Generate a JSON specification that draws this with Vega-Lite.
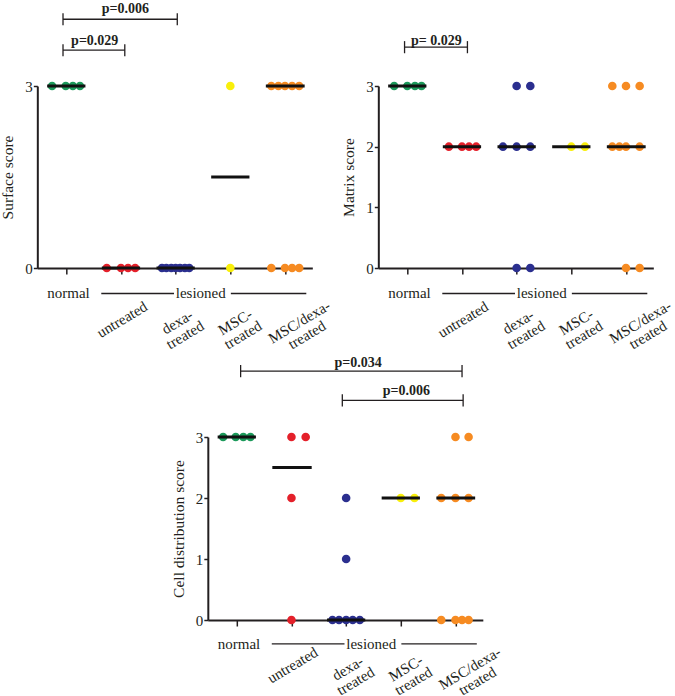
{
  "$schema": "https://vega.github.io/schema/vega-lite/v6.json",
  "padding": {"left": 0, "top": 1, "right": 0, "bottom": 0},
  "background": "white",
  "config": {
    "view": {"stroke": null},
    "axis": {"domainColor": "#231f20", "tickColor": "#231f20", "labelColor": "#231f20", "titleColor": "#231f20", "grid": false, "labelFont": "Liberation Serif", "titleFont": "Liberation Serif", "domainWidth": 2, "tickWidth": 1.5}
  },
  "datasets": {
    "d1": [
      {"g": "normal", "x": 0.74, "y": 3}, {"g": "normal", "x": 0.99, "y": 3}, {"g": "normal", "x": 1.12, "y": 3}, {"g": "normal", "x": 1.25, "y": 3},
      {"g": "untreated", "x": 1.74, "y": 0}, {"g": "untreated", "x": 2.0, "y": 0}, {"g": "untreated", "x": 2.13, "y": 0}, {"g": "untreated", "x": 2.26, "y": 0},
      {"g": "dexa", "x": 2.75, "y": 0}, {"g": "dexa", "x": 2.83, "y": 0}, {"g": "dexa", "x": 2.92, "y": 0}, {"g": "dexa", "x": 3.0, "y": 0}, {"g": "dexa", "x": 3.08, "y": 0}, {"g": "dexa", "x": 3.17, "y": 0}, {"g": "dexa", "x": 3.25, "y": 0},
      {"g": "MSC", "x": 4.0, "y": 3}, {"g": "MSC", "x": 4.0, "y": 0},
      {"g": "MSCdexa", "x": 4.75, "y": 3}, {"g": "MSCdexa", "x": 4.88, "y": 3}, {"g": "MSCdexa", "x": 5.0, "y": 3}, {"g": "MSCdexa", "x": 5.13, "y": 3}, {"g": "MSCdexa", "x": 5.26, "y": 3},
      {"g": "MSCdexa", "x": 4.75, "y": 0}, {"g": "MSCdexa", "x": 5.0, "y": 0}, {"g": "MSCdexa", "x": 5.13, "y": 0}, {"g": "MSCdexa", "x": 5.26, "y": 0}
    ],
    "m1": [
      {"x1": 0.65, "x2": 1.35, "y": 3}, {"x1": 1.65, "x2": 2.35, "y": 0}, {"x1": 2.65, "x2": 3.35, "y": 0}, {"x1": 3.65, "x2": 4.35, "y": 1.5}, {"x1": 4.65, "x2": 5.36, "y": 3}
    ],
    "b1": [
      {"x1": 0.94, "x2": 3.03, "y": 4.1, "t": "p=0.006", "tx": 2.08, "ty": 4.27},
      {"x1": 0.94, "x2": 2.07, "y": 3.59, "t": "p=0.029", "tx": 1.52, "ty": 3.75}
    ],
    "c1": [
      {"x": 0.94, "y1": 4.0, "y2": 4.2}, {"x": 3.03, "y1": 4.0, "y2": 4.2},
      {"x": 0.94, "y1": 3.49, "y2": 3.69}, {"x": 2.07, "y1": 3.49, "y2": 3.69}
    ],
    "d2": [
      {"g": "normal", "x": 0.76, "y": 3}, {"g": "normal", "x": 1.0, "y": 3}, {"g": "normal", "x": 1.14, "y": 3}, {"g": "normal", "x": 1.26, "y": 3},
      {"g": "untreated", "x": 1.76, "y": 2}, {"g": "untreated", "x": 2.0, "y": 2}, {"g": "untreated", "x": 2.13, "y": 2}, {"g": "untreated", "x": 2.26, "y": 2},
      {"g": "dexa", "x": 3.0, "y": 3}, {"g": "dexa", "x": 3.25, "y": 3}, {"g": "dexa", "x": 2.75, "y": 2}, {"g": "dexa", "x": 3.0, "y": 2}, {"g": "dexa", "x": 3.25, "y": 2}, {"g": "dexa", "x": 3.0, "y": 0}, {"g": "dexa", "x": 3.25, "y": 0},
      {"g": "MSC", "x": 4.0, "y": 2}, {"g": "MSC", "x": 4.25, "y": 2},
      {"g": "MSCdexa", "x": 4.75, "y": 3}, {"g": "MSCdexa", "x": 5.0, "y": 3}, {"g": "MSCdexa", "x": 5.25, "y": 3},
      {"g": "MSCdexa", "x": 4.75, "y": 2}, {"g": "MSCdexa", "x": 4.88, "y": 2}, {"g": "MSCdexa", "x": 5.0, "y": 2}, {"g": "MSCdexa", "x": 5.25, "y": 2},
      {"g": "MSCdexa", "x": 5.0, "y": 0}, {"g": "MSCdexa", "x": 5.25, "y": 0}
    ],
    "m2": [
      {"x1": 0.65, "x2": 1.35, "y": 3}, {"x1": 1.65, "x2": 2.35, "y": 2}, {"x1": 2.65, "x2": 3.35, "y": 2}, {"x1": 3.65, "x2": 4.35, "y": 2}, {"x1": 4.65, "x2": 5.36, "y": 2}
    ],
    "b2": [
      {"x1": 0.95, "x2": 2.1, "y": 3.64, "t": "p= 0.029", "tx": 1.53, "ty": 3.75}
    ],
    "c2": [
      {"x": 0.95, "y1": 3.54, "y2": 3.74}, {"x": 2.1, "y1": 3.54, "y2": 3.74}
    ],
    "d3": [
      {"g": "normal", "x": 0.75, "y": 3}, {"g": "normal", "x": 0.98, "y": 3}, {"g": "normal", "x": 1.12, "y": 3}, {"g": "normal", "x": 1.25, "y": 3},
      {"g": "untreated", "x": 2.0, "y": 3}, {"g": "untreated", "x": 2.26, "y": 3}, {"g": "untreated", "x": 2.0, "y": 2}, {"g": "untreated", "x": 2.0, "y": 0},
      {"g": "dexa", "x": 3.0, "y": 2}, {"g": "dexa", "x": 3.0, "y": 1}, {"g": "dexa", "x": 2.75, "y": 0}, {"g": "dexa", "x": 2.87, "y": 0}, {"g": "dexa", "x": 3.0, "y": 0}, {"g": "dexa", "x": 3.12, "y": 0}, {"g": "dexa", "x": 3.25, "y": 0},
      {"g": "MSC", "x": 4.0, "y": 2}, {"g": "MSC", "x": 4.25, "y": 2},
      {"g": "MSCdexa", "x": 5.0, "y": 3}, {"g": "MSCdexa", "x": 5.24, "y": 3},
      {"g": "MSCdexa", "x": 4.74, "y": 2}, {"g": "MSCdexa", "x": 5.0, "y": 2}, {"g": "MSCdexa", "x": 5.24, "y": 2},
      {"g": "MSCdexa", "x": 4.74, "y": 0}, {"g": "MSCdexa", "x": 5.0, "y": 0}, {"g": "MSCdexa", "x": 5.12, "y": 0}, {"g": "MSCdexa", "x": 5.24, "y": 0}
    ],
    "m3": [
      {"x1": 0.65, "x2": 1.35, "y": 3}, {"x1": 1.65, "x2": 2.37, "y": 2.5}, {"x1": 2.65, "x2": 3.35, "y": 0}, {"x1": 3.65, "x2": 4.35, "y": 2}, {"x1": 4.65, "x2": 5.36, "y": 2}
    ],
    "b3": [
      {"x1": 1.07, "x2": 5.12, "y": 4.08, "t": "p=0.034", "tx": 3.22, "ty": 4.22},
      {"x1": 2.93, "x2": 5.14, "y": 3.6, "t": "p=0.006", "tx": 4.1, "ty": 3.75}
    ],
    "c3": [
      {"x": 1.07, "y1": 3.98, "y2": 4.18}, {"x": 5.12, "y1": 3.98, "y2": 4.18},
      {"x": 2.93, "y1": 3.5, "y2": 3.7}, {"x": 5.14, "y1": 3.5, "y2": 3.7}
    ],
    "hl": [
      {"t": "normal", "x": 1.04, "y": -0.42},
      {"t": "lesioned", "x": 3.46, "y": -0.42}
    ],
    "rl": [
      {"t": "untreated", "x": 2.02, "y": -0.85},
      {"t": "dexa-\ntreated", "x": 3.03, "y": -0.89},
      {"t": "MSC-\ntreated", "x": 4.09, "y": -0.89},
      {"t": "MSC/dexa-\ntreated", "x": 5.26, "y": -0.89}
    ],
    "ll": [
      {"x1": 1.64, "x2": 2.97, "y": -0.42},
      {"x1": 4.01, "x2": 5.39, "y": -0.42}
    ],
    "hl3": [
      {"t": "normal", "x": 1.04, "y": -0.39},
      {"t": "lesioned", "x": 3.46, "y": -0.39}
    ],
    "rl3": [
      {"t": "untreated", "x": 2.02, "y": -0.74},
      {"t": "dexa-\ntreated", "x": 3.03, "y": -0.79},
      {"t": "MSC-\ntreated", "x": 4.09, "y": -0.79},
      {"t": "MSC/dexa-\ntreated", "x": 5.26, "y": -0.79}
    ],
    "ll3": [
      {"x1": 1.64, "x2": 2.97, "y": -0.39},
      {"x1": 4.01, "x2": 5.39, "y": -0.39}
    ]
  },
  "vconcat": [
    {
      "hconcat": [
        {
          "width": 275, "height": 182,
          "layer": [
            {"data": {"name": "ll"}, "mark": {"type": "rule", "strokeWidth": 1.3, "color": "#231f20"},
             "encoding": {"x": {"field": "x1", "type": "quantitative"}, "x2": {"field": "x2"}, "y": {"field": "y", "type": "quantitative"}}},
            {"data": {"name": "b1"}, "mark": {"type": "rule", "strokeWidth": 1.3, "color": "#231f20"},
             "encoding": {"x": {"field": "x1", "type": "quantitative"}, "x2": {"field": "x2"}, "y": {"field": "y", "type": "quantitative"}}},
            {"data": {"name": "c1"}, "mark": {"type": "rule", "strokeWidth": 1.3, "color": "#231f20"},
             "encoding": {"x": {"field": "x", "type": "quantitative"}, "y": {"field": "y1", "type": "quantitative"}, "y2": {"field": "y2"}}},
            {"data": {"name": "b1"}, "mark": {"type": "text", "font": "Liberation Serif", "fontWeight": "bold", "fontSize": 14, "baseline": "middle", "align": "center", "color": "#231f20"},
             "encoding": {"x": {"field": "tx", "type": "quantitative"}, "y": {"field": "ty", "type": "quantitative"}, "text": {"field": "t"}}},
            {"data": {"name": "hl"}, "mark": {"type": "text", "font": "Liberation Serif", "fontSize": 15, "baseline": "middle", "align": "center", "color": "#231f20"},
             "encoding": {"x": {"field": "x", "type": "quantitative"}, "y": {"field": "y", "type": "quantitative"}, "text": {"field": "t"}}},
            {"data": {"name": "rl"}, "mark": {"type": "text", "font": "Liberation Serif", "fontSize": 15, "baseline": "middle", "align": "center", "angle": -31, "lineBreak": "\n", "lineHeight": 15, "color": "#231f20"},
             "encoding": {"x": {"field": "x", "type": "quantitative"}, "y": {"field": "y", "type": "quantitative"}, "text": {"field": "t"}}},
            {"data": {"name": "d1"}, "mark": {"type": "circle", "size": 74, "opacity": 1},
             "encoding": {
               "x": {"field": "x", "type": "quantitative", "scale": {"domain": [0.47, 5.5], "nice": false, "zero": false}, "axis": {"title": null, "values": [1, 2, 3, 4, 5], "labels": false, "tickSize": 6}},
               "y": {"field": "y", "type": "quantitative", "scale": {"domain": [0, 3], "nice": false}, "axis": {"title": "Surface score", "values": [0, 3], "format": "d", "tickSize": 4, "labelPadding": 1, "labelFontSize": 15, "titleFontSize": 15.5, "titleFontWeight": "normal", "titlePadding": 9}},
               "color": {"field": "g", "type": "nominal", "scale": {"domain": ["normal", "untreated", "dexa", "MSC", "MSCdexa"], "range": ["#1c9a5b", "#e4202a", "#2b2f8f", "#f9ef0a", "#f68b22"]}, "legend": null}}},
            {"data": {"name": "m1"}, "mark": {"type": "rule", "strokeWidth": 3, "color": "#111111"},
             "encoding": {"x": {"field": "x1", "type": "quantitative"}, "x2": {"field": "x2"}, "y": {"field": "y", "type": "quantitative"}}}
          ]
        },
        {
          "width": 275, "height": 182,
          "layer": [
            {"data": {"name": "ll"}, "mark": {"type": "rule", "strokeWidth": 1.3, "color": "#231f20"},
             "encoding": {"x": {"field": "x1", "type": "quantitative"}, "x2": {"field": "x2"}, "y": {"field": "y", "type": "quantitative"}}},
            {"data": {"name": "b2"}, "mark": {"type": "rule", "strokeWidth": 1.3, "color": "#231f20"},
             "encoding": {"x": {"field": "x1", "type": "quantitative"}, "x2": {"field": "x2"}, "y": {"field": "y", "type": "quantitative"}}},
            {"data": {"name": "c2"}, "mark": {"type": "rule", "strokeWidth": 1.3, "color": "#231f20"},
             "encoding": {"x": {"field": "x", "type": "quantitative"}, "y": {"field": "y1", "type": "quantitative"}, "y2": {"field": "y2"}}},
            {"data": {"name": "b2"}, "mark": {"type": "text", "font": "Liberation Serif", "fontWeight": "bold", "fontSize": 14, "baseline": "middle", "align": "center", "color": "#231f20"},
             "encoding": {"x": {"field": "tx", "type": "quantitative"}, "y": {"field": "ty", "type": "quantitative"}, "text": {"field": "t"}}},
            {"data": {"name": "hl"}, "mark": {"type": "text", "font": "Liberation Serif", "fontSize": 15, "baseline": "middle", "align": "center", "color": "#231f20"},
             "encoding": {"x": {"field": "x", "type": "quantitative"}, "y": {"field": "y", "type": "quantitative"}, "text": {"field": "t"}}},
            {"data": {"name": "rl"}, "mark": {"type": "text", "font": "Liberation Serif", "fontSize": 15, "baseline": "middle", "align": "center", "angle": -31, "lineBreak": "\n", "lineHeight": 15, "color": "#231f20"},
             "encoding": {"x": {"field": "x", "type": "quantitative"}, "y": {"field": "y", "type": "quantitative"}, "text": {"field": "t"}}},
            {"data": {"name": "d2"}, "mark": {"type": "circle", "size": 74, "opacity": 1},
             "encoding": {
               "x": {"field": "x", "type": "quantitative", "scale": {"domain": [0.47, 5.5], "nice": false, "zero": false}, "axis": {"title": null, "values": [1, 2, 3, 4, 5], "labels": false, "tickSize": 6}},
               "y": {"field": "y", "type": "quantitative", "scale": {"domain": [0, 3], "nice": false}, "axis": {"title": "Matrix score", "values": [0, 1, 2, 3], "format": "d", "tickSize": 4, "labelPadding": 1, "labelFontSize": 15, "titleFontSize": 15.5, "titleFontWeight": "normal", "titlePadding": 9}},
               "color": {"field": "g", "type": "nominal", "scale": {"domain": ["normal", "untreated", "dexa", "MSC", "MSCdexa"], "range": ["#1c9a5b", "#e4202a", "#2b2f8f", "#f9ef0a", "#f68b22"]}, "legend": null}}},
            {"data": {"name": "m2"}, "mark": {"type": "rule", "strokeWidth": 3, "color": "#111111"},
             "encoding": {"x": {"field": "x1", "type": "quantitative"}, "x2": {"field": "x2"}, "y": {"field": "y", "type": "quantitative"}}}
          ]
        }
      ],
      "spacing": 66,
      "bounds": "flush"
    },
    {
      "width": 275, "height": 183,
      "layer": [
        {"data": {"name": "ll3"}, "mark": {"type": "rule", "strokeWidth": 1.3, "color": "#231f20"},
         "encoding": {"x": {"field": "x1", "type": "quantitative"}, "x2": {"field": "x2"}, "y": {"field": "y", "type": "quantitative"}}},
        {"data": {"name": "b3"}, "mark": {"type": "rule", "strokeWidth": 1.3, "color": "#231f20"},
         "encoding": {"x": {"field": "x1", "type": "quantitative"}, "x2": {"field": "x2"}, "y": {"field": "y", "type": "quantitative"}}},
        {"data": {"name": "c3"}, "mark": {"type": "rule", "strokeWidth": 1.3, "color": "#231f20"},
         "encoding": {"x": {"field": "x", "type": "quantitative"}, "y": {"field": "y1", "type": "quantitative"}, "y2": {"field": "y2"}}},
        {"data": {"name": "b3"}, "mark": {"type": "text", "font": "Liberation Serif", "fontWeight": "bold", "fontSize": 14, "baseline": "middle", "align": "center", "color": "#231f20"},
         "encoding": {"x": {"field": "tx", "type": "quantitative"}, "y": {"field": "ty", "type": "quantitative"}, "text": {"field": "t"}}},
        {"data": {"name": "hl3"}, "mark": {"type": "text", "font": "Liberation Serif", "fontSize": 15, "baseline": "middle", "align": "center", "color": "#231f20"},
         "encoding": {"x": {"field": "x", "type": "quantitative"}, "y": {"field": "y", "type": "quantitative"}, "text": {"field": "t"}}},
        {"data": {"name": "rl3"}, "mark": {"type": "text", "font": "Liberation Serif", "fontSize": 15, "baseline": "middle", "align": "center", "angle": -31, "lineBreak": "\n", "lineHeight": 15, "color": "#231f20"},
         "encoding": {"x": {"field": "x", "type": "quantitative"}, "y": {"field": "y", "type": "quantitative"}, "text": {"field": "t"}}},
        {"data": {"name": "d3"}, "mark": {"type": "circle", "size": 74, "opacity": 1},
         "encoding": {
           "x": {"field": "x", "type": "quantitative", "scale": {"domain": [0.47, 5.5], "nice": false, "zero": false}, "axis": {"title": null, "values": [1, 2, 3, 4, 5], "labels": false, "tickSize": 6}},
           "y": {"field": "y", "type": "quantitative", "scale": {"domain": [0, 3], "nice": false}, "axis": {"title": "Cell distribution score", "values": [0, 1, 2, 3], "format": "d", "tickSize": 4, "labelPadding": 1, "labelFontSize": 15, "titleFontSize": 15.5, "titleFontWeight": "normal", "titlePadding": 9}},
           "color": {"field": "g", "type": "nominal", "scale": {"domain": ["normal", "untreated", "dexa", "MSC", "MSCdexa"], "range": ["#1c9a5b", "#e4202a", "#2b2f8f", "#f9ef0a", "#f68b22"]}, "legend": null}}},
        {"data": {"name": "m3"}, "mark": {"type": "rule", "strokeWidth": 3, "color": "#111111"},
         "encoding": {"x": {"field": "x1", "type": "quantitative"}, "x2": {"field": "x2"}, "y": {"field": "y", "type": "quantitative"}}}
      ]
    }
  ],
  "spacing": -5,
  "bounds": "full",
  "center": true
}
